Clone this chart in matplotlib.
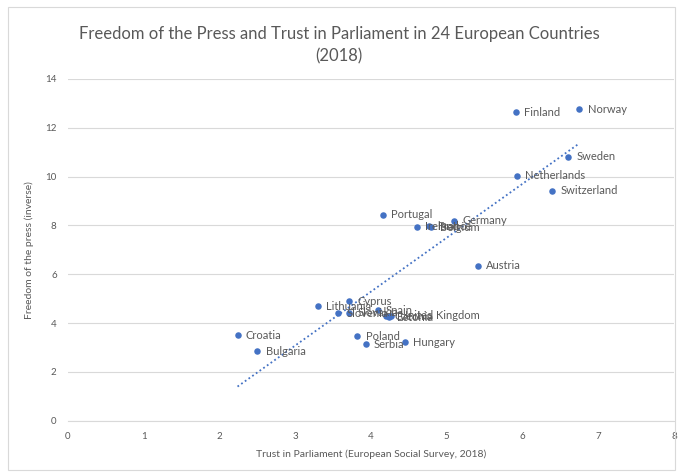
import matplotlib.pyplot as plt
import numpy as np

countries = ["Norway", "Finland", "Sweden", "Netherlands", "Switzerland",
             "Portugal", "Germany", "Ireland", "France", "Belgium", "Austria",
             "Lithuania", "Cyprus", "Slovenia", "Slovakia", "Spain",
             "United Kingdom", "Czechia", "Estonia", "Poland", "Serbia",
             "Hungary", "Croatia", "Bulgaria"]
trust = [6.75, 5.91, 6.60, 5.93, 6.39,
         4.16, 5.10, 4.61, 4.77, 4.80, 5.41,
         3.30, 3.71, 3.57, 3.71, 4.09,
         4.27, 4.20, 4.24, 3.82, 3.93,
         4.45, 2.24, 2.50]
press = [12.76, 12.63, 10.82, 10.04, 9.42,
         8.44, 8.19, 7.94, 7.96, 7.93, 6.34,
         4.69, 4.90, 4.40, 4.43, 4.53,
         4.30, 4.28, 4.24, 3.46, 3.13,
         3.21, 3.50, 2.84]

plt.rcParams['font.family'] = ['Lato', 'DejaVu Sans']
txt = '#595959'

fig = plt.figure(figsize=(6.78, 4.75), dpi=100)
ax = fig.add_axes([0.100, 0.114, 0.894, 0.720])

ax.scatter(trust, press, s=22, color='#4472C4', zorder=3, linewidths=0)
for name, x, y in zip(countries, trust, press):
    ax.annotate(name, (x, y), xytext=(6, 0), textcoords='offset points',
                va='center', ha='left', fontsize=8, color=txt, zorder=4)

# linear trendline across the data range
k, b = np.polyfit(trust, press, 1)
xs = np.array([min(trust), max(trust)])
ax.plot(xs, k * xs + b, ls=(0, (1, 1.5)), lw=1.3, color='#4472C4', zorder=2)

ax.set_xlim(0, 8)
ax.set_ylim(0, 14)
ax.set_xticks(range(0, 9))
ax.set_yticks(range(0, 15, 2))
ax.grid(axis='y', color='#d9d9d9', lw=0.8)
ax.set_axisbelow(True)
for s in ['top', 'right', 'left']:
    ax.spines[s].set_visible(False)
ax.spines['bottom'].set_color('#d9d9d9')
ax.tick_params(length=0, labelsize=7, labelcolor=txt, pad=8)

ax.set_xlabel('Trust in Parliament (European Social Survey, 2018)',
              fontsize=7.5, color=txt, labelpad=6)
ax.set_ylabel('Freedom of the press (inverse)', fontsize=7.5, color=txt,
              labelpad=8)
fig.text(0.5, 0.905, 'Freedom of the Press and Trust in Parliament in 24 European Countries\n(2018)',
         ha='center', va='center', fontsize=12, color=txt, linespacing=1.5)

fig.patches.append(plt.Rectangle((0.012, 0.01), 0.984, 0.975,
                                 transform=fig.transFigure, fill=False,
                                 edgecolor='#d9d9d9', lw=0.8))

fig.savefig('out.png', dpi=100, facecolor='white')
